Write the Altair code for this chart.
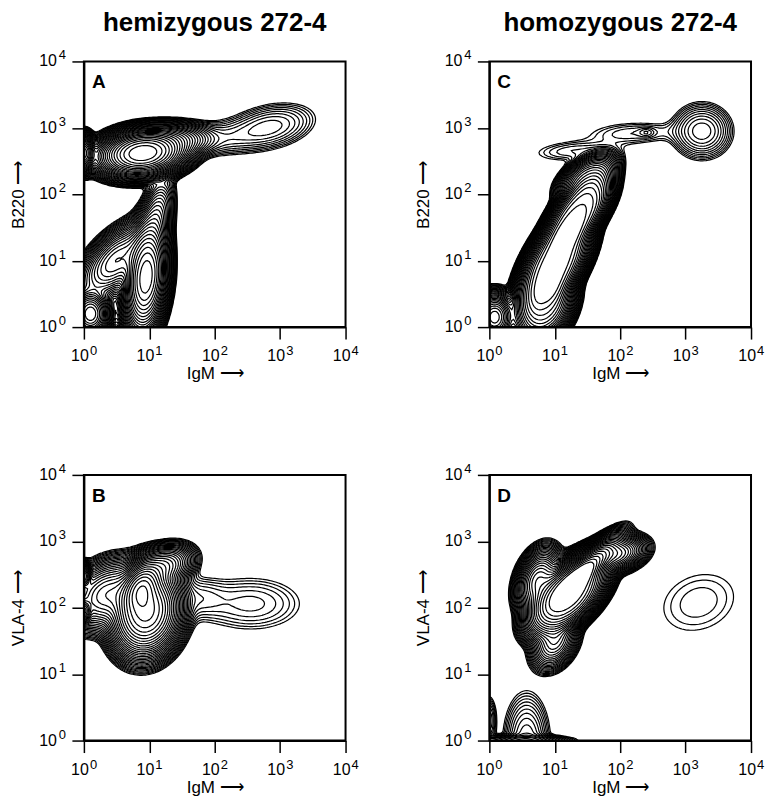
import numpy as np
import pandas as pd
import altair as alt

alt.data_transformers.disable_max_rows()

# ---- data: populations (log10 decades) ----
# each tuple: (IgM centre, marker centre, IgM spread, marker spread, tilt, peak height, flatness)
PANEL_A = [
    (0.90, 2.62, 0.30, 0.16, 0.15, 1.0, 1.1),
    (1.40, 2.83, 0.25, 0.11, 0.00, 0.06, 1.0),
    (2.05, 2.84, 0.42, 0.15, 0.20, 0.004, 1.0),
    (2.85, 3.02, 0.35, 0.18, 0.30, 0.007, 1.0),
    (0.95, 0.75, 0.15, 0.38, 0.20, 0.6, 1.1),
    (0.50, 1.00, 0.25, 0.25, 0.60, 0.10, 1.0),
    (1.10, 1.60, 0.12, 0.28, 0.40, 0.04, 1.0),
    (0.10, 0.20, 0.12, 0.15, 0.00, 0.25, 1.0),
    (0.00, 2.62, 0.07, 0.12, 0.00, 0.3, 1.0),
]
PANEL_B = [
    (0.95, 1.95, 0.24, 0.30, 0.10, 0.7, 1.1),
    (0.88, 2.30, 0.14, 0.18, 0.30, 0.5, 1.0),
    (1.20, 2.62, 0.20, 0.14, 0.30, 0.10, 1.0),
    (0.35, 2.20, 0.25, 0.22, 0.30, 0.12, 1.0),
    (1.75, 2.15, 0.25, 0.18, 0.00, 0.003, 1.0),
    (2.55, 2.06, 0.47, 0.24, 0.00, 0.0035, 1.0),
    (0.00, 2.48, 0.05, 0.08, 0.00, 0.2, 1.0),
    (0.00, 1.95, 0.05, 0.08, 0.00, 0.2, 1.0),
]
PANEL_C = [
    (1.00, 0.95, 0.32, 0.45, 0.60, 1.0, 1.5),
    (1.35, 1.70, 0.30, 0.37, 0.65, 0.8, 1.5),
    (0.85, 0.35, 0.23, 0.30, 0.30, 0.5, 1.3),
    (1.50, 2.25, 0.22, 0.18, 0.50, 0.15, 1.2),
    (0.08, 0.15, 0.12, 0.15, 0.00, 0.3, 1.0),
    (1.30, 2.65, 0.40, 0.10, 0.20, 0.0025, 1.0),
    (2.20, 2.92, 0.45, 0.11, 0.15, 0.0025, 1.0),
    (2.40, 2.93, 0.07, 0.04, 0.00, 0.002, 1.0),
    (3.25, 2.95, 0.22, 0.20, 0.00, 0.012, 1.0),
]
PANEL_D = [
    (1.20, 2.20, 0.33, 0.33, 0.55, 1.0, 1.4),
    (1.40, 2.50, 0.22, 0.22, 0.85, 0.8, 1.0),
    (1.90, 2.80, 0.20, 0.12, 0.30, 0.15, 1.0),
    (0.75, 2.40, 0.14, 0.20, 0.30, 0.20, 1.0),
    (1.00, 1.50, 0.15, 0.18, 0.30, 0.08, 1.0),
    (3.20, 2.08, 0.47, 0.37, 0.20, 0.0019, 1.0),
    (0.57, 0.00, 0.17, 0.35, 0.00, 0.01, 1.0),
    (0.00, 0.30, 0.06, 0.20, 0.00, 0.005, 1.0),
    (0.50, 0.00, 0.35, 0.04, 0.00, 0.02, 1.0),
]
LEVEL_STEPS = list(range(1, 31))      # contour level k  ->  10^(-0.1 k)
TICKS = [1, 10, 100, 1000, 10000]
TICK_BASE = ["10", "10", "10", "10", "10"]
TICK_EXP = ["0", "1", "2", "3", "4"]
COL_TITLES = ["hemizygous 272-4", "homozygous 272-4"]
LETTERS = ["A", "B", "C", "D"]
Y_TITLES = ["B220 ⟶", "VLA-4 ⟶"]
X_TITLE = "IgM ⟶"

# ---- contour table built from the populations ----
GRID = np.linspace(0, 4, 141)


def field(comps):
    X, Y = np.meshgrid(GRID, GRID)
    F = np.zeros_like(X)
    for cx, cy, sx, sy, rho, amp, pw in comps:
        dx = (X - cx) / sx
        dy = (Y - cy) / sy
        q = (dx * dx - 2 * rho * dx * dy + dy * dy) / (1 - rho * rho)
        F += amp * np.exp(-0.5 * q ** pw)
    return F


CASES = {1: [("L", "B")], 2: [("B", "R")], 3: [("L", "R")], 4: [("R", "T")],
         6: [("B", "T")], 7: [("L", "T")], 8: [("L", "T")], 9: [("B", "T")],
         11: [("R", "T")], 12: [("L", "R")], 13: [("B", "R")], 14: [("L", "B")]}


def ekey(e, j, i):
    return {"B": (0, j, i), "T": (0, j + 1, i), "L": (1, j, i), "R": (1, j, i + 1)}[e]


def epoint(key, F, lev):
    o, j, i = key
    if o == 0:
        f0, f1 = F[j, i], F[j, i + 1]
        t = (lev - f0) / (f1 - f0)
        return GRID[i] + t * (GRID[i + 1] - GRID[i]), GRID[j]
    f0, f1 = F[j, i], F[j + 1, i]
    t = (lev - f0) / (f1 - f0)
    return GRID[i], GRID[j] + t * (GRID[j + 1] - GRID[j])


def contour_paths(F, lev):
    b = F > lev
    idx = b[:-1, :-1] * 1 + b[:-1, 1:] * 2 + b[1:, 1:] * 4 + b[1:, :-1] * 8
    adj = {}
    for j, i in zip(*np.nonzero((idx > 0) & (idx < 15))):
        c = int(idx[j, i])
        if c in (5, 10):
            centre = (F[j, i] + F[j, i + 1] + F[j + 1, i] + F[j + 1, i + 1]) / 4 > lev
            if c == 5:
                segs = [("B", "R"), ("L", "T")] if centre else [("L", "B"), ("R", "T")]
            else:
                segs = [("L", "B"), ("R", "T")] if centre else [("B", "R"), ("L", "T")]
        else:
            segs = CASES[c]
        for e1, e2 in segs:
            k1, k2 = ekey(e1, j, i), ekey(e2, j, i)
            adj.setdefault(k1, []).append(k2)
            adj.setdefault(k2, []).append(k1)
    remaining = set(adj)

    def walk(start):
        path = [start]
        remaining.discard(start)
        cur = start
        while True:
            nxt = next((n for n in adj[cur] if n in remaining), None)
            if nxt is None:
                return path
            path.append(nxt)
            remaining.discard(nxt)
            cur = nxt

    paths = []
    for k in list(adj):
        if len(adj[k]) == 1 and k in remaining:
            paths.append(walk(k))
    while remaining:
        s = next(iter(remaining))
        p = walk(s)
        p.append(s)
        paths.append(p)
    return [[epoint(k, F, lev) for k in p] for p in paths]


def contour_table(comps):
    F = field(comps)
    rows = []
    pid = 0
    for k in LEVEL_STEPS:
        lev = 10 ** (-0.1 * k)
        for path in contour_paths(F, lev):
            for o, (px, py) in enumerate(path):
                rows.append((pid, o, float(f"{10 ** px:.5g}"), float(f"{10 ** py:.5g}")))
            pid += 1
    return pd.DataFrame(rows, columns=["p", "o", "x", "y"])


W, H = 262, 266
FONT = "Liberation Sans"
TICK_DF = pd.DataFrame({"v": TICKS, "base": TICK_BASE, "exp": TICK_EXP})


def panel(comps, letter, ytitle, title=None):
    df = contour_table(comps)
    sc = alt.Scale(type="log", domain=[1, 10000], nice=False)
    lines = alt.Chart(df).mark_line(color="black", strokeWidth=1.2, clip=True).encode(
        x=alt.X("x:Q", scale=sc, axis=alt.Axis(values=TICKS, labels=False, title=X_TITLE, titlePadding=26)),
        y=alt.Y("y:Q", scale=sc, axis=alt.Axis(values=TICKS, labels=False, title=ytitle, titlePadding=44)),
        detail="p:N",
        order="o:Q",
    )
    tick = alt.Chart(TICK_DF)
    xb = tick.mark_text(font=FONT, fontSize=16, align="right", baseline="alphabetic", dx=5, color="black").encode(
        x=alt.X("v:Q", scale=sc), y=alt.value(H + 34), text="base:N")
    xe = tick.mark_text(font=FONT, fontSize=13, align="left", baseline="alphabetic", dx=6, color="black").encode(
        x=alt.X("v:Q", scale=sc), y=alt.value(H + 28), text="exp:N")
    yb = tick.mark_text(font=FONT, fontSize=16, align="right", baseline="middle", dy=0, color="black").encode(
        y=alt.Y("v:Q", scale=sc), x=alt.value(-27), text="base:N")
    ye = tick.mark_text(font=FONT, fontSize=13, align="right", baseline="middle", dy=-6, color="black").encode(
        y=alt.Y("v:Q", scale=sc), x=alt.value(-18), text="exp:N")
    lab = alt.Chart(pd.DataFrame({"t": [letter]})).mark_text(
        font=FONT, fontSize=19, fontWeight="bold", align="left", baseline="alphabetic", color="black"
    ).encode(text="t:N", x=alt.value(8), y=alt.value(27))
    ch = alt.layer(lines, xb, xe, yb, ye, lab).properties(width=W, height=H)
    if title:
        ch = ch.properties(title=alt.TitleParams(title, font=FONT, fontSize=26, fontWeight="bold",
                                                 anchor="middle", offset=13, color="black"))
    return ch


pa = panel(PANEL_A, LETTERS[0], Y_TITLES[0], COL_TITLES[0])
pc = panel(PANEL_C, LETTERS[2], Y_TITLES[0], COL_TITLES[1])
pb = panel(PANEL_B, LETTERS[1], Y_TITLES[1])
pd_ = panel(PANEL_D, LETTERS[3], Y_TITLES[1])

chart = alt.concat(
    pa, pc, pb, pd_, columns=2, spacing={"row": 148, "column": 144}, bounds="flush",
).properties(
    padding={"left": 8, "top": 9, "right": 0, "bottom": 0},
    background="white",
).configure_view(stroke="black", strokeWidth=2).configure_axis(
    grid=False, domainColor="black", domainWidth=2, tickColor="black", tickWidth=1.5, tickSize=12,
    titleFont=FONT, titleFontSize=17, titleFontWeight="normal", titleColor="black",
)

chart.save("out.html", embed_options={"renderer": "svg", "actions": False})
